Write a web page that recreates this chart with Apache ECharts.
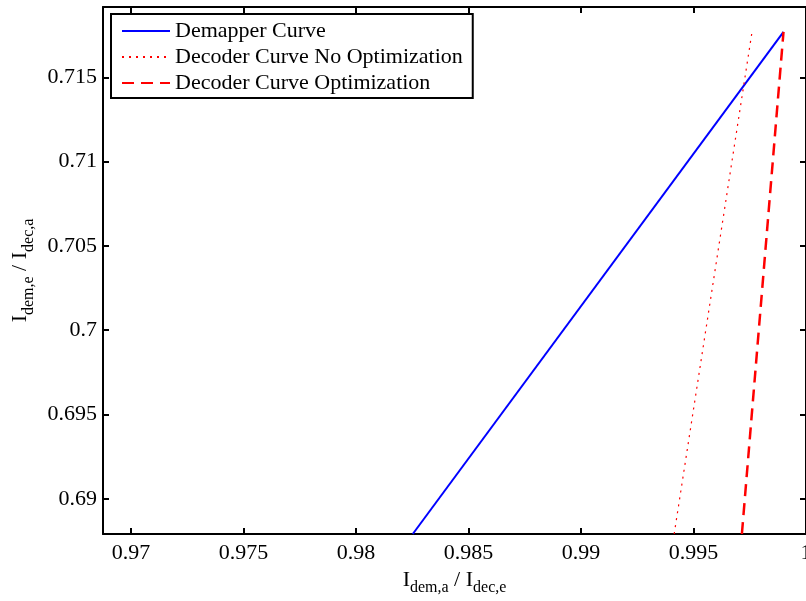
<!DOCTYPE html>
<html>
<head>
<meta charset="utf-8">
<script src="https://cdn.jsdelivr.net/npm/echarts@6/dist/echarts.min.js"></script>
<style>
  html, body { margin: 0; padding: 0; background: #fff; }
  #chart { width: 806px; height: 601px; }
</style>
</head>
<body>
<div id="chart"></div>
<script>
// Axis extents and tick positions
const xRange = [0.96875, 1.0];
const yRange = [0.68791, 0.71918];
const xTicks = [0.97, 0.975, 0.98, 0.985, 0.99, 0.995, 1.0];
const yTicks = [0.69, 0.695, 0.7, 0.705, 0.71, 0.715];

// EXIT-chart transfer curves
const demapperX = [0.98252, 0.9990];
const demapperY = [0.68791, 0.7177];
const decoderNoOptX = [0.99414, 0.99760];
const decoderNoOptY = [0.68791, 0.7177];
const decoderOptX = [0.99715, 0.9990];
const decoderOptY = [0.68791, 0.7177];

const seriesNames = ['Demapper Curve', 'Decoder Curve No Optimization', 'Decoder Curve Optimization'];

const FONT = 'Liberation Serif';
const fmt = v => String(+(+v).toFixed(3));
const pairs = (xs, ys) => xs.map((x, i) => [x, ys[i]]);

const richLabel = {
  m: { fontFamily: FONT, fontSize: 22, lineHeight: 22, color: '#000', verticalAlign: 'top' },
  s: { fontFamily: FONT, fontSize: 16, lineHeight: 16, color: '#000', verticalAlign: 'top', padding: [11, 0, 0, 0] }
};

function axisBase(isX, showLabels, position) {
  const ticks = isX ? xTicks : yTicks;
  const range = isX ? xRange : yRange;
  return {
    type: 'value',
    position: position,
    min: range[0],
    max: range[1],
    axisLine: { show: true, onZero: false, lineStyle: { color: '#000', width: 2 } },
    axisTick: { show: true, inside: true, length: 6, customValues: ticks, lineStyle: { color: '#000', width: 2 } },
    axisLabel: {
      show: showLabels, customValues: ticks, formatter: fmt,
      fontFamily: FONT, fontSize: 22, color: '#000', margin: isX ? 8 : 6
    },
    splitLine: { show: false }
  };
}

const xMain = Object.assign(axisBase(true, true, 'bottom'), {
  name: '{m|I}{s|dem,a}{m| / I}{s|dec,e}',
  nameLocation: 'middle',
  nameGap: 30,
  nameTextStyle: { rich: richLabel }
});
const yMain = Object.assign(axisBase(false, true, 'left'), {
  name: '{m|I}{s|dem,e}{m| / I}{s|dec,a}',
  nameLocation: 'middle',
  nameGap: 68,
  nameRotate: 90,
  nameTextStyle: { rich: richLabel }
});

const chart = echarts.init(document.getElementById('chart'), null, { renderer: 'canvas' });
chart.setOption({
  animation: false,
  backgroundColor: '#fff',
  grid: { left: 103, right: 0, top: 7, bottom: 67, containLabel: false, outerBoundsMode: 'none' },
  xAxis: [xMain, axisBase(true, false, 'top')],
  yAxis: [yMain, axisBase(false, false, 'right')],
  legend: {
    orient: 'vertical',
    left: 111,
    top: 14,
    padding: [6, 10, 4, 10],
    itemWidth: 48,
    itemHeight: 14,
    itemGap: 4,
    backgroundColor: '#fff',
    borderColor: '#000',
    borderWidth: 2,
    borderRadius: 0,
    itemStyle: { opacity: 0 },
    textStyle: { fontFamily: FONT, fontSize: 22, lineHeight: 22, color: '#000' },
    data: seriesNames
  },
  series: [
    {
      name: seriesNames[0], type: 'line', symbol: 'none', clip: true,
      data: pairs(demapperX, demapperY),
      lineStyle: { color: '#0000ff', width: 2, type: 'solid' },
      itemStyle: { color: '#0000ff' }
    },
    {
      name: seriesNames[1], type: 'line', symbol: 'none', clip: true,
      data: pairs(decoderNoOptX, decoderNoOptY),
      lineStyle: { color: '#ff0000', width: 1.2, type: [2, 5] },
      itemStyle: { color: '#ff0000' }
    },
    {
      name: seriesNames[2], type: 'line', symbol: 'none', clip: true,
      data: pairs(decoderOptX, decoderOptY),
      lineStyle: { color: '#ff0000', width: 2.5, type: [12, 7] },
      itemStyle: { color: '#ff0000' }
    }
  ]
});
</script>
</body>
</html>
